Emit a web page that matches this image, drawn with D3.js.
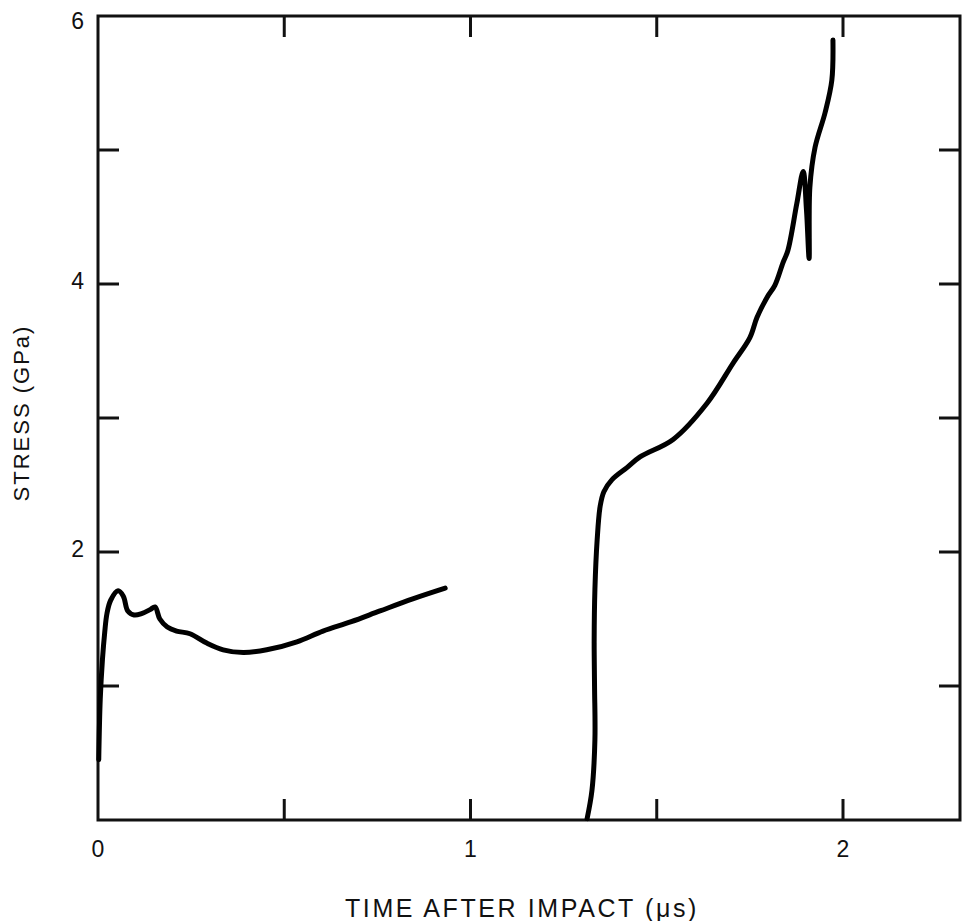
<!DOCTYPE html>
<html>
<head>
<meta charset="utf-8">
<script src="https://cdn.jsdelivr.net/npm/d3@7"></script>
<style>
  html, body { margin: 0; padding: 0; background: #fff; }
  svg { display: block; }
  text { font-family: "Liberation Sans", Arial, Helvetica, sans-serif; fill: #111; }
</style>
</head>
<body>
<svg id="chart" width="967" height="921"></svg>
<script>
// ---- data ----
const earlyTime   = [0.002, 0.006, 0.012, 0.018, 0.024, 0.034, 0.054, 0.068, 0.080, 0.097, 0.117, 0.140, 0.153, 0.166, 0.186, 0.211, 0.247, 0.292, 0.336, 0.390, 0.453, 0.534, 0.604, 0.680, 0.757, 0.845, 0.932];
const earlyStress = [0.45,  0.90,  1.20,  1.40,  1.54,  1.64,  1.71,  1.67,  1.56,  1.53,  1.54,  1.57,  1.59,  1.50,  1.44,  1.41,  1.39,  1.32,  1.27,  1.25,  1.27,  1.33,  1.41,  1.48,  1.56,  1.65,  1.73];

const lateTime   = [1.313, 1.326, 1.334, 1.333, 1.332, 1.334, 1.340, 1.348, 1.358, 1.380, 1.420, 1.455, 1.544, 1.635, 1.705, 1.750, 1.769, 1.796, 1.817, 1.839, 1.852, 1.876, 1.893, 1.902, 1.909, 1.911, 1.925, 1.952, 1.970, 1.973];
const lateStress = [0.01,  0.22,  0.60,  1.00,  1.34,  1.72,  2.09,  2.34,  2.45,  2.54,  2.63,  2.71,  2.84,  3.11,  3.41,  3.60,  3.75,  3.90,  3.99,  4.16,  4.25,  4.60,  4.84,  4.55,  4.19,  4.72,  5.02,  5.28,  5.52,  5.82];

const xTicks = [0, 0.5, 1, 1.5, 2];
const yTicks = [1, 2, 3, 4, 5];
const xTickLabels = ["0", "1", "2"];
const yTickLabels = ["2", "4", "6"];
const xLabelValues = [0, 1, 2];
const yLabelValues = [2, 4, 6];
const xTitle = "TIME AFTER IMPACT (\u03BCs)";
const yTitle = "STRESS (GPa)";

// ---- layout ----
const svg = d3.select("#chart");
const mLeft = 98, mRight = 960, mTop = 16, mBottom = 820;
const x = d3.scaleLinear().domain([0, (mRight - mLeft) / 372.5]).range([mLeft, mRight]);
const y = d3.scaleLinear().domain([0, 6]).range([mBottom, mTop]);

// frame
svg.append("rect")
  .attr("x", mLeft).attr("y", mTop)
  .attr("width", mRight - mLeft).attr("height", mBottom - mTop)
  .attr("fill", "none").attr("stroke", "#111").attr("stroke-width", 3);

// inner ticks (all four sides)
const tickLen = 21;
const g = svg.append("g").attr("stroke", "#111").attr("stroke-width", 3);
xTicks.filter(d => d > 0).forEach(d => {
  g.append("line").attr("x1", x(d)).attr("x2", x(d)).attr("y1", mBottom).attr("y2", mBottom - tickLen);
  g.append("line").attr("x1", x(d)).attr("x2", x(d)).attr("y1", mTop).attr("y2", mTop + tickLen);
});
yTicks.forEach(d => {
  g.append("line").attr("x1", mLeft).attr("x2", mLeft + tickLen).attr("y1", y(d)).attr("y2", y(d));
  g.append("line").attr("x1", mRight).attr("x2", mRight - tickLen).attr("y1", y(d)).attr("y2", y(d));
});

// tick labels
xLabelValues.forEach((v, i) => {
  svg.append("text").attr("x", x(v)).attr("y", 857)
    .attr("text-anchor", "middle").attr("font-size", 23).text(xTickLabels[i]);
});
yLabelValues.forEach((v, i) => {
  svg.append("text").attr("x", 84).attr("y", Math.max(y(v) + 5, 29))
    .attr("text-anchor", "end").attr("font-size", 23).text(yTickLabels[i]);
});

// axis titles
svg.append("text").attr("x", 522).attr("y", 917)
  .attr("text-anchor", "middle").attr("font-size", 25).attr("letter-spacing", 2.6)
  .text(xTitle);
svg.append("text").attr("transform", "translate(29,413) rotate(-90)")
  .attr("text-anchor", "middle").attr("font-size", 22).attr("letter-spacing", 2)
  .text(yTitle);

// curves
const line = d3.line().x(d => x(d[0])).y(d => y(d[1])).curve(d3.curveCatmullRom.alpha(0.5));
const early = earlyTime.map((t, i) => [t, earlyStress[i]]);
const late = lateTime.map((t, i) => [t, lateStress[i]]);
[early, late].forEach(data => {
  svg.append("path").datum(data).attr("d", line)
    .attr("fill", "none").attr("stroke", "#000").attr("stroke-width", 5)
    .attr("stroke-linejoin", "round").attr("stroke-linecap", "round");
});
</script>
</body>
</html>
